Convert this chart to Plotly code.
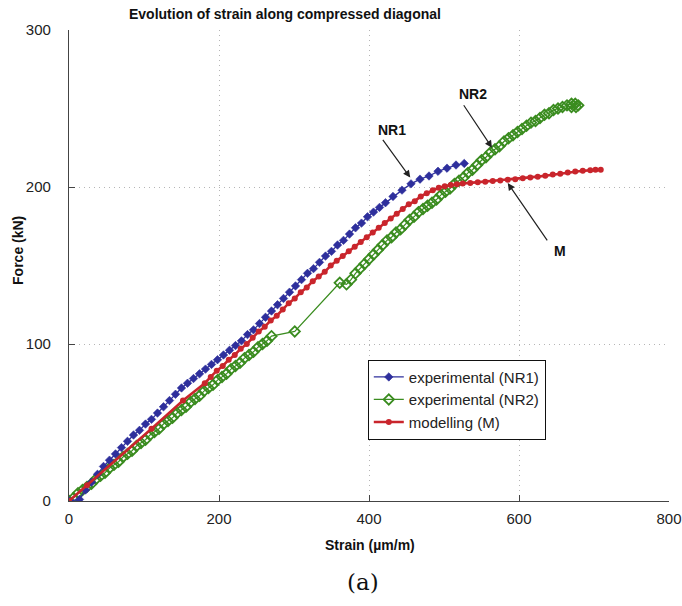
import plotly.graph_objects as go

# ---- data ----
nr1_strain = [0, 14, 22, 30, 38, 46, 54, 62, 70, 78, 86, 94, 102, 110, 118, 126, 134, 142, 150, 158,
              166, 174, 182, 190, 198, 206, 214, 222, 230, 238, 246, 254, 262, 270, 278, 286, 294, 302,
              310, 318, 326, 334, 342, 350, 358, 366, 374, 382, 390, 398, 406, 414, 422, 432, 444, 456,
              468, 480, 492, 504, 516, 527]
nr1_force = [0, 1, 7, 12, 17, 22, 26, 30, 34, 38, 42, 45, 49, 52, 56, 60, 64, 68, 72, 75,
             78, 81, 84, 87, 90, 93, 96, 99, 102, 106, 109, 113, 117, 121, 125, 129, 133, 137,
             141, 145, 148, 152, 156, 159, 163, 166, 170, 174, 177, 181, 184, 187, 190, 194, 198, 202,
             205, 207, 210, 212, 214, 215]

nr2_strain = [0, 6, 12, 18, 24, 30, 36, 42, 48, 54, 60, 66, 72, 78, 84, 90, 96, 102, 108, 114,
              120, 126, 132, 138, 144, 150, 156, 162, 168, 174, 180, 186, 192, 198, 204, 210, 216, 222,
              228, 234, 240, 246, 252, 258, 264, 270, 301, 361, 370, 376, 382, 388, 394, 400, 406, 412,
              418, 424, 430, 436, 442, 448, 454, 460, 466, 472, 478, 484, 490, 496, 502, 508, 514, 520,
              526, 532, 538, 544, 550, 556, 562, 568, 574, 580, 586, 592, 598, 604, 610, 616, 622, 628,
              634, 640, 646, 652, 658, 664, 670, 675, 679, 676, 670]
nr2_force = [0, 2, 5, 7, 9, 11, 14, 16, 18, 21, 23, 25, 28, 30, 32, 35, 37, 39, 42, 44,
             46, 49, 51, 53, 56, 58, 60, 63, 65, 67, 70, 72, 74, 77, 79, 81, 84, 86,
             88, 91, 93, 95, 98, 100, 102, 105, 108, 139, 138, 141, 145, 148, 151, 154, 157, 160,
             163, 166, 168, 171, 173, 176, 179, 181, 184, 186, 188, 190, 192, 195, 197, 199, 202, 204,
             206, 209, 211, 214, 217, 219, 222, 224, 226, 229, 231, 233, 235, 237, 239, 241, 242, 244,
             246, 247, 249, 250, 251, 252, 253, 253, 252, 251, 251]

m_strain = [0, 24, 110, 152, 181, 189, 197, 205, 213, 221, 229, 237, 245, 253, 261, 269, 277, 285,
            293, 301, 309, 317, 325, 333, 341, 349, 357, 365, 373, 381, 389, 397, 405, 413, 421, 429,
            437, 445, 453, 461, 469, 477, 485, 493, 501, 509, 517, 525, 535, 545, 555, 565, 575, 585,
            595, 605, 615, 625, 635, 645, 655, 665, 675, 685, 695, 702, 709]
m_force = [0, 10, 46, 64, 75, 79, 83, 86, 90, 93, 97, 100, 104, 108, 111, 115, 118, 122,
           126, 129, 133, 136, 140, 143, 146, 150, 153, 156, 159, 162, 165, 168, 171, 174, 177, 180,
           183, 186, 189, 191, 194, 196, 198, 199.5, 200.5, 201.2, 201.8, 202.2, 202.6, 203, 203.4, 203.8, 204.2, 204.6,
           205, 205.5, 206, 206.6, 207.2, 207.9, 208.5, 209.2, 209.8, 210.3, 210.7, 211, 211]

x_ticks = [0, 200, 400, 600, 800]
y_ticks = [0, 100, 200, 300]

BLUE = "#2e2f9c"
GREEN = "#3a8c1f"
RED = "#c9252c"
FONT = "Liberation Sans"

fig = go.Figure()
fig.add_trace(go.Scatter(
    x=nr2_strain, y=nr2_force, mode="lines+markers", name="experimental (NR2)",
    line=dict(color=GREEN, width=1.2),
    marker=dict(symbol="diamond-open", size=8, color=GREEN, line=dict(width=1.8, color=GREEN)),
))
fig.add_trace(go.Scatter(
    x=nr1_strain, y=nr1_force, mode="lines+markers", name="experimental (NR1)",
    line=dict(color=BLUE, width=1.3),
    marker=dict(symbol="diamond", size=6.5, color=BLUE, line=dict(width=0.6, color=BLUE)),
))
fig.add_trace(go.Scatter(
    x=m_strain, y=m_force, mode="lines+markers", name="modelling (M)",
    line=dict(color=RED, width=2.6),
    marker=dict(symbol="circle", size=6, color=RED),
))
fig.data[1].legendrank = 1
fig.data[0].legendrank = 2
fig.data[2].legendrank = 3

fig.update_layout(
    width=682, height=606,
    margin=dict(l=69, r=13, t=30, b=105),
    paper_bgcolor="white", plot_bgcolor="white",
    font=dict(family=FONT, size=14, color="#222"),
    showlegend=True,
    legend=dict(
        x=0.498, y=0.3, xanchor="left", yanchor="top",
        bordercolor="#111", borderwidth=1, bgcolor="white",
        font=dict(family=FONT, size=15, color="#222"),
        itemwidth=30, tracegroupgap=0,
    ),
)

axis_common = dict(
    showgrid=True, gridcolor="#b5b5b5", griddash="1px,4px", gridwidth=1,
    zeroline=False, showline=True, linecolor="#444", linewidth=1.2,
    ticks="inside", ticklen=6, tickcolor="#444", automargin=False,
    tickfont=dict(family=FONT, size=15, color="#222"),
)
fig.update_xaxes(range=[0, 800], tickvals=x_ticks, ticktext=[str(v) for v in x_ticks],
                 ticklabelstandoff=4, **axis_common)
fig.update_yaxes(range=[0, 300], tickvals=y_ticks, ticktext=[str(v) for v in y_ticks],
                 ticklabelstandoff=14, **axis_common)

# title and axis titles
fig.add_annotation(text="<b>Evolution of strain along compressed diagonal</b>",
                   xref="paper", yref="paper", x=0.36, y=1.034, showarrow=False,
                   font=dict(family=FONT, size=14, color="#111"), xanchor="center", yanchor="middle")
fig.add_annotation(text="<b>Force (kN)</b>", xref="paper", yref="paper", x=-0.085, y=0.533,
                   textangle=-90, showarrow=False, font=dict(family=FONT, size=14, color="#111"),
                   xanchor="center", yanchor="middle")
fig.add_annotation(text="<b>Strain (µm/m)</b>", xref="paper", yref="paper", x=0.502, y=-0.093,
                   showarrow=False, font=dict(family=FONT, size=14, color="#111"),
                   xanchor="center", yanchor="middle")
fig.add_annotation(text="(a)", xref="paper", yref="paper", x=0.49, y=-0.172,
                   showarrow=False, font=dict(family="DejaVu Serif", size=23, color="#111"),
                   xanchor="center", yanchor="middle")

# curve labels with arrows
labels = [("NR1", 431, 236, 417, 231, 455, 206),
          ("NR2", 539, 259, 525, 253, 564, 225),
          ("M", 655, 159, 639, 165, 585, 202.5)]
for txt, tx, ty, ax0, ay0, hx, hy in labels:
    fig.add_annotation(text=f"<b>{txt}</b>", x=tx, y=ty, xref="x", yref="y", showarrow=False,
                       font=dict(family=FONT, size=14, color="#111"))
    fig.add_annotation(text="", x=hx, y=hy, ax=ax0, ay=ay0, xref="x", yref="y",
                       axref="x", ayref="y", showarrow=True, arrowhead=2, arrowsize=1.2,
                       arrowwidth=1.2, arrowcolor="#222")

fig.write_html("out.html",
               config={"displayModeBar": False},
               post_script="document.body.style.margin='0';document.body.style.overflow='hidden';")
